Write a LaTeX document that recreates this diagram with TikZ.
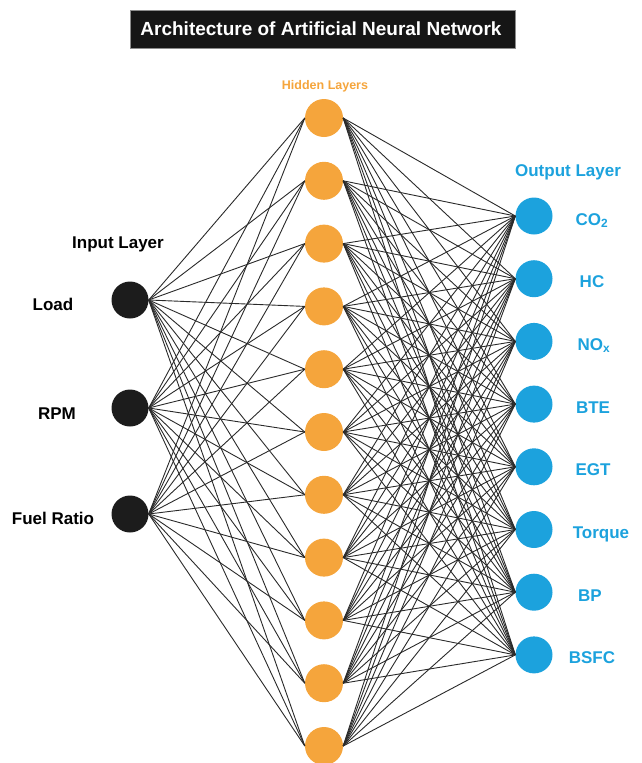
\documentclass[tikz,border=0pt]{standalone}
\usepackage{fontspec}
\setmainfont{Liberation Sans}
\definecolor{inblack}{HTML}{1C1C1C}
\definecolor{hidorange}{HTML}{F5A53C}
\definecolor{outblue}{HTML}{1CA2DD}
\definecolor{titlebg}{HTML}{161616}
\definecolor{edgecol}{HTML}{2A2A2A}
\begin{document}
\begin{tikzpicture}[x=1pt,y=-1pt,
  neuron/.style={circle, minimum size=37pt, inner sep=0pt},
  innode/.style={neuron, fill=inblack},
  hidnode/.style={neuron, fill=hidorange, minimum size=38pt},
  outnode/.style={neuron, fill=outblue},
  lab/.style={font=\bfseries\fontsize{17}{19}\selectfont, inner sep=0pt, anchor=base},
  inlab/.style={lab, text=black},
  outlab/.style={lab, text=outblue},
  conn/.style={draw=edgecol, line width=0.9pt}]
\useasboundingbox (0,0) rectangle (641,763);
% title
\node[draw=black!45, line width=0.6pt, fill=titlebg, minimum width=385pt, minimum height=38pt, inner sep=0pt] (title) at (322.5,29) {};
\node[font=\bfseries\fontsize{19}{22}\selectfont, text=white, anchor=base, inner sep=0pt] (titletext) at (321,35.5) {Architecture of Artificial Neural Network};
% layer labels
\node[font=\bfseries\fontsize{12.5}{14}\selectfont, text=hidorange, anchor=base, inner sep=0pt] (hidlab) at (325,89) {Hidden Layers};
\node[inlab] (inlayer) at (118,248) {Input Layer};
\node[outlab] (outlayer) at (568,176) {Output Layer};
% input nodes
\foreach \y [count=\i] in {300,408,514} \node[innode] (i\i) at (130,\y) {};
\node[inlab] (l1) at (53,310) {Load};
\node[inlab] (l2) at (57,419) {RPM};
\node[inlab] (l3) at (53,524) {Fuel Ratio};
% hidden nodes
\foreach \i in {1,...,11} \node[hidnode] (h\i) at (324,{118+62.8*(\i-1)}) {};
% output nodes
\foreach \i in {1,...,8} \node[outnode] (o\i) at (534,{216+62.7*(\i-1)}) {};
\node[outlab] (t1) at (592,{216+9}) {CO\textsubscript{2}};
\node[outlab] (t2) at (592,{278.7+9}) {HC};
\node[outlab] (t3) at (594,{341.4+9}) {NO\textsubscript{x}};
\node[outlab] (t4) at (593,{404.1+9}) {BTE};
\node[outlab] (t5) at (593,{466.8+9}) {EGT};
\node[outlab] (t6) at (601,{529.5+9}) {Torque};
\node[outlab] (t7) at (590,{592.2+9}) {BP};
\node[outlab] (t8) at (592,{654.9+9}) {BSFC};
% connections
\foreach \a in {1,2,3} \foreach \b in {1,...,11} \draw[conn] (i\a.east) -- (h\b.west);
\foreach \a in {1,...,11} \foreach \b in {1,...,8} \draw[conn] (h\a.east) -- (o\b.west);
\end{tikzpicture}
\end{document}
